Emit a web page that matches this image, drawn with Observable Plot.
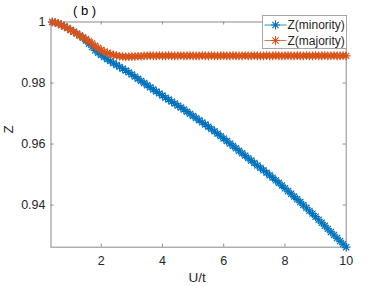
<!DOCTYPE html>
<html>
<head>
<meta charset="utf-8">
<script src="https://cdn.jsdelivr.net/npm/d3@7"></script>
<script src="https://cdn.jsdelivr.net/npm/@observablehq/plot@0.6"></script>
<style>
  html, body { margin: 0; padding: 0; background: #fff; }
</style>
</head>
<body>
<div id="chart"></div>
<script>
// ---- data ----
const U = [0.4,0.5,0.6,0.7,0.8,0.9,1.0,1.1,1.2,1.3,1.4,1.5,1.6,1.7,1.8,1.9,2.0,2.1,2.2,2.3,2.4,2.5,2.6,2.7,2.8,2.9,3.0,3.1,3.2,3.3,3.4,3.5,3.6,3.7,3.8,3.9,4.0,4.1,4.2,4.3,4.4,4.5,4.6,4.7,4.8,4.9,5.0,5.1,5.2,5.3,5.4,5.5,5.6,5.7,5.8,5.9,6.0,6.1,6.2,6.3,6.4,6.5,6.6,6.7,6.8,6.9,7.0,7.1,7.2,7.3,7.4,7.5,7.6,7.7,7.8,7.9,8.0,8.1,8.2,8.3,8.4,8.5,8.6,8.7,8.8,8.9,9.0,9.1,9.2,9.3,9.4,9.5,9.6,9.7,9.8,9.9,10.0];

const zMinority = [1.0000,0.9998,0.9995,0.9990,0.9985,0.9980,0.9974,0.9968,0.9962,0.9956,0.9948,0.9939,0.9929,0.9918,0.9907,0.9899,0.9892,0.9885,0.9878,0.9872,0.9865,0.9859,0.9853,0.9847,0.9841,0.9835,0.9828,0.9821,0.9814,0.9807,0.9800,0.9793,0.9786,0.9779,0.9772,0.9766,0.9759,0.9752,0.9746,0.9739,0.9733,0.9726,0.9720,0.9713,0.9706,0.9699,0.9692,0.9685,0.9678,0.9671,0.9664,0.9657,0.9649,0.9642,0.9634,0.9626,0.9618,0.9610,0.9602,0.9594,0.9586,0.9578,0.9570,0.9562,0.9554,0.9546,0.9538,0.9530,0.9522,0.9514,0.9506,0.9498,0.9490,0.9481,0.9473,0.9464,0.9455,0.9446,0.9437,0.9428,0.9419,0.9410,0.9400,0.9391,0.9381,0.9372,0.9362,0.9352,0.9342,0.9332,0.9322,0.9312,0.9302,0.9292,0.9282,0.9272,0.9262];

const zMajority = [1.0000,0.9998,0.9995,0.9990,0.9985,0.9980,0.9974,0.9968,0.9962,0.9956,0.9950,0.9944,0.9937,0.9930,0.9922,0.9915,0.9908,0.9903,0.9899,0.9895,0.9892,0.9890,0.9888,0.9887,0.9886,0.9886,0.9887,0.9887,0.9888,0.9888,0.9889,0.9889,0.9890,0.9889,0.9889,0.9890,0.9889,0.9889,0.9890,0.9889,0.9889,0.9889,0.9890,0.9889,0.9889,0.9890,0.9889,0.9889,0.9889,0.9890,0.9889,0.9889,0.9890,0.9889,0.9889,0.9889,0.9890,0.9889,0.9889,0.9890,0.9889,0.9889,0.9889,0.9890,0.9889,0.9889,0.9890,0.9889,0.9889,0.9889,0.9890,0.9889,0.9889,0.9890,0.9889,0.9889,0.9889,0.9890,0.9889,0.9889,0.9890,0.9889,0.9889,0.9890,0.9889,0.9889,0.9890,0.9889,0.9889,0.9890,0.9889,0.9889,0.9890,0.9889,0.9889,0.9890,0.9889];

const seriesNames = ["Z(minority)", "Z(majority)"];
const seriesColors = ["#0072BD", "#D95319"];
const xTicks = [2, 4, 6, 8, 10];
const yTicks = [0.94, 0.96, 0.98, 1];
const yTickLabels = ["0.94", "0.96", "0.98", "1"];
const xLabel = "U/t";
const yLabel = "Z";
const panelTitle = "( b )";

// ---- layout ----
const W = 382, H = 286;
const mL = 50.5, mR = 36.3, mT = 21.5, mB = 39.3;
const innerH = H - mT - mB;
const innerW = W - mL - mR;
const axisColor = "#8a8a8a";
const textColor = "#262626";
const FONT = "'Liberation Sans', Arial, Helvetica, sans-serif";

// MATLAB-like '*' marker: plus + cross
const star = {
  draw(ctx, size) {
    const r = Math.sqrt(size / Math.PI);
    const d = r * Math.SQRT1_2;
    ctx.moveTo(-r, 0); ctx.lineTo(r, 0);
    ctx.moveTo(0, -r); ctx.lineTo(0, r);
    ctx.moveTo(-d, -d); ctx.lineTo(d, d);
    ctx.moveTo(-d, d); ctx.lineTo(d, -d);
  }
};

const minRows = U.map((u, i) => ({U: u, Z: zMinority[i], s: seriesNames[0]}));
const majRows = U.map((u, i) => ({U: u, Z: zMajority[i], s: seriesNames[1]}));

const yMin = d3.min(zMinority);

const plot = Plot.plot({
  width: W,
  height: H,
  marginLeft: mL,
  marginRight: mR,
  marginTop: mT,
  marginBottom: mB,
  style: {
    fontFamily: FONT,
    fontSize: "12.5px",
    color: textColor,
    background: "white",
    overflow: "visible"
  },
  x: {domain: [0.36, 10]},
  y: {domain: [yMin, 1]},
  marks: [
    Plot.frame({stroke: axisColor, strokeWidth: 1}),
    Plot.axisX(xTicks, {tickSize: 0, tickPadding: 9, label: null, fill: textColor, fontSize: 12.5}),
    Plot.axisY(yTicks, {tickSize: 0, tickPadding: 5.5, label: null, fill: textColor, fontSize: 12.5,
      tickFormat: (d) => yTickLabels[yTicks.indexOf(d)]}),
    Plot.tickX(xTicks, {x: d => d, stroke: axisColor, insetTop: innerH - 3}),
    Plot.tickX(xTicks, {x: d => d, stroke: axisColor, insetBottom: innerH - 3}),
    Plot.tickY(yTicks, {y: d => d, stroke: axisColor, insetRight: innerW - 3}),
    Plot.tickY(yTicks, {y: d => d, stroke: axisColor, insetLeft: innerW - 3}),
    // minority (below)
    Plot.line(minRows, {x: "U", y: "Z", stroke: seriesColors[0], strokeWidth: 0.8}),
    Plot.dot(minRows, {x: "U", y: "Z", symbol: star, r: 4.3, stroke: seriesColors[0], strokeWidth: 1.2, fill: "none"}),
    // majority (on top)
    Plot.line(majRows, {x: "U", y: "Z", stroke: seriesColors[1], strokeWidth: 0.8}),
    Plot.dot(majRows, {x: "U", y: "Z", symbol: star, r: 4.3, stroke: seriesColors[1], strokeWidth: 1.2, fill: "none"}),
    // axis labels and panel title
    Plot.text([xLabel], {frameAnchor: "bottom", dx: -1.5, dy: 30, text: d => d, fill: textColor, fontSize: 13.5, lineAnchor: "middle"}),
    Plot.text([yLabel], {frameAnchor: "left", dx: -42.5, dy: -1, rotate: -90, text: d => d, fill: textColor, fontSize: 13.5, lineAnchor: "middle"}),
    Plot.text([panelTitle], {frameAnchor: "top-left", dx: 22, dy: -11.5, text: d => d, fill: "#000", fontSize: 13, lineAnchor: "middle"})
  ]
});

document.getElementById("chart").appendChild(plot);

// ---- legend (inside the SVG, top-right) ----
const svg = d3.select(plot);
const lg = svg.append("g").attr("class", "legend").attr("text-anchor", "start");
const bx = 262.5, by = 15.5, bw = 84, bh = 33;
lg.append("rect")
  .attr("x", bx).attr("y", by).attr("width", bw).attr("height", bh)
  .attr("fill", "white").attr("stroke", "#a6a6a6").attr("stroke-width", 1);
seriesNames.forEach((name, i) => {
  const cy = by + 9.5 + i * 15.5;
  lg.append("line")
    .attr("x1", bx + 2).attr("x2", bx + 24).attr("y1", cy).attr("y2", cy)
    .attr("stroke", seriesColors[i]).attr("stroke-width", 0.8);
  lg.append("path")
    .attr("transform", `translate(${bx + 13},${cy})`)
    .attr("d", d3.symbol(star, Math.PI * 4.5 * 4.5)())
    .attr("stroke", seriesColors[i]).attr("stroke-width", 1.1).attr("fill", "none");
  lg.append("text")
    .attr("x", bx + 25).attr("y", cy).attr("dy", "0.35em")
    .attr("text-anchor", "start")
    .attr("fill", textColor).attr("font-size", 12)
    .attr("font-family", FONT)
    .text(name);
});
</script>
</body>
</html>
